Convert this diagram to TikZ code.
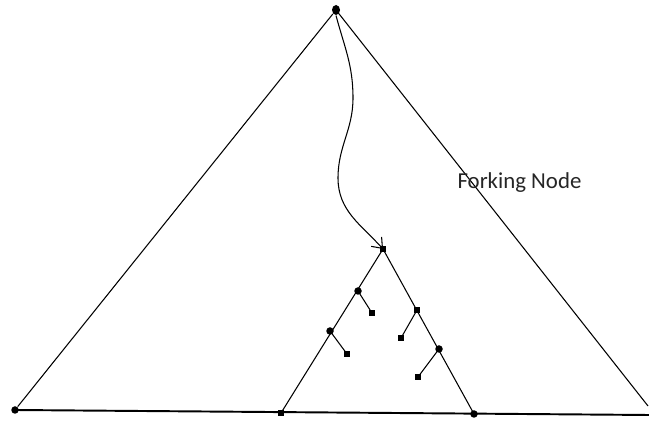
\documentclass[tikz,border=0pt]{standalone}
\usepackage{fontspec}
\setmainfont{Carlito}
\usetikzlibrary{arrows.meta,shapes.geometric}
\begin{document}
\begin{tikzpicture}[x=0.02cm,y=-0.02cm,
  line width=0.6pt,
  dotbig/.style={circle,fill=black,inner sep=0pt,minimum size=7.5*0.02cm},
  dotsm/.style={rectangle,fill=black,inner sep=0pt,minimum size=6*0.02cm},
  lbl/.style={font=\fontsize{13}{15}\selectfont,text=black!85,inner sep=0pt,anchor=base west}]
\useasboundingbox (0,0) rectangle (649,421);
% outer triangle
\node[ellipse,fill=black,inner sep=0pt,minimum width=8*0.02cm,minimum height=10*0.02cm] (top) at (336,10) {};
\node[dotbig] (bl) at (15,410) {};
\coordinate (br) at (648,406);
\coordinate (bend) at (649,415);
\draw (top) -- (bl);
\draw (top.center) -- (br);
\draw[line width=1.1pt] (bl.center) -- (bend);
% inner triangle
\node[dotsm] (ia) at (383,249) {};
\node[dotsm] (ibl) at (281,413) {};
\node[dotbig] (ibr) at (474,414) {};
\draw (ia.center) -- (ibl.center);
\draw (ia.center) -- (ibr.center);
% inner branch nodes
\node[dotbig] (l1) at (358,291) {};
\node[dotbig] (l2) at (330,331) {};
\node[dotsm] (l1c) at (372,313) {};
\node[dotsm] (l2c) at (347,354) {};
\node[dotsm] (r1) at (417,310) {};
\node[dotbig] (r2) at (439,349) {};
\node[dotsm] (r1c) at (401,338) {};
\node[dotsm] (r2c) at (418,377) {};
\draw (l1.center) -- (l1c.center);
\draw (l2.center) -- (l2c.center);
\draw (r1.center) -- (r1c.center);
\draw (r2.center) -- (r2c.center);
% curved arrow
\coordinate (m1) at (353,98);
\coordinate (m2) at (338,178);
\draw[-{Straight Barb[length=9*0.02cm,width=14*0.02cm]}] (top.south) to[out=-75,in=90] (m1) to[out=-90,in=90] (m2) to[out=-90,in=132] (ia.center);
% label
\node[lbl] (fk) at (457,189) {Forking Node};
\end{tikzpicture}
\end{document}
